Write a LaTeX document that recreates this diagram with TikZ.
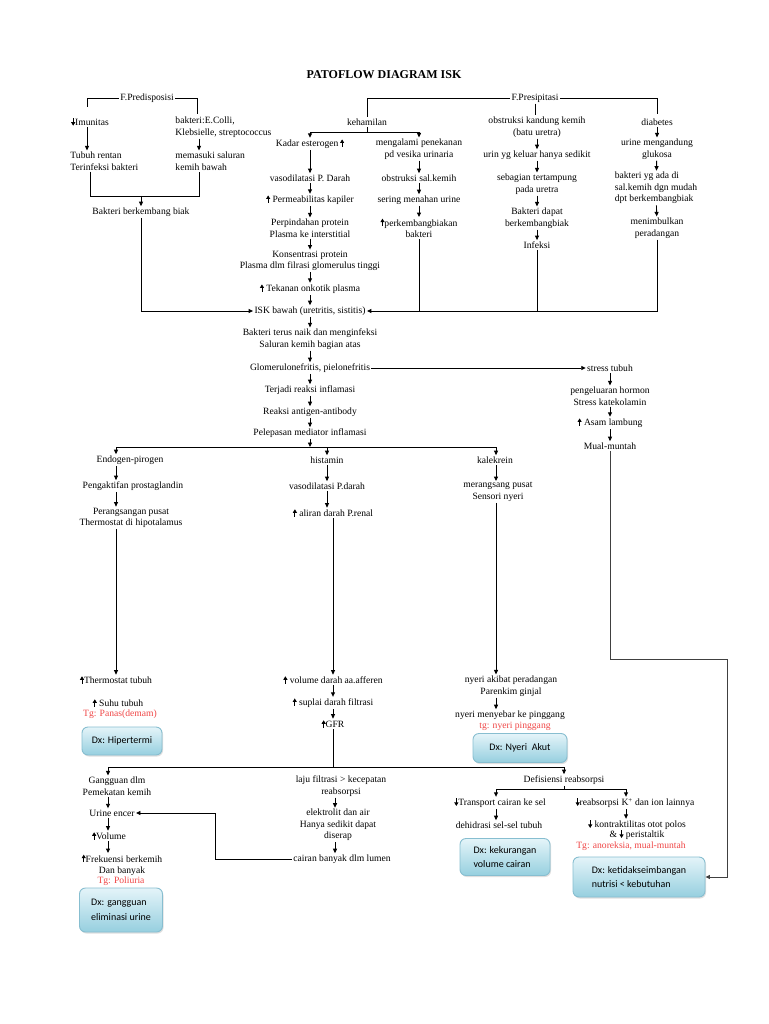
\documentclass[tikz,border=0pt]{standalone}
\usepackage{fontspec}
\setmainfont{Liberation Serif}
\newfontfamily\dxfont{Carlito}
\usetikzlibrary{arrows.meta}
\usetikzlibrary{shadows}

\definecolor{merah}{RGB}{240,70,70}
\definecolor{kotakatas}{RGB}{228,244,249}
\definecolor{kotakbawah}{RGB}{150,207,223}
\definecolor{kotakgaris}{RGB}{135,190,208}

\newcommand{\naik}{\tikz[baseline=0pt]\draw[line width=0.8pt,-{Triangle[length=3.5pt,width=4pt]}] (0,0) -- (0,7.5pt);}
\newcommand{\turun}{\tikz[baseline=0pt]\draw[line width=0.8pt,-{Triangle[length=3.5pt,width=4pt]}] (0,7.5pt) -- (0,0);}

\tikzset{
  teks/.style={font=\fontsize{9.6}{11.5}\selectfont, align=center, inner sep=1pt},
  merahteks/.style={teks, text=merah},
  dx/.style={draw=kotakgaris, rounded corners=6pt, top color=kotakatas, bottom color=kotakbawah,
    font=\dxfont\fontsize{10}{14.5}\selectfont, align=left, inner xsep=7pt,
    drop shadow={opacity=0.25,shadow xshift=1pt,shadow yshift=-1.5pt}},
  panah/.style={-{Triangle[length=4.5pt,width=4pt]}}
}

\begin{document}
\begin{tikzpicture}[x=1pt,y=-1pt,line width=0.9pt]
  \fill[white] (0,0) rectangle (768,1024);
  \useasboundingbox (0,0) rectangle (768,1024);

  % Title
  \node[font=\bfseries\fontsize{12}{14}\selectfont] (judul) at (384,75) {PATOFLOW DIAGRAM ISK};

  % Predisposition
  \node[teks] (predis) at (147,98) {F.Predisposisi};
  \node[teks,anchor=west] (imun) at (70,122) {\turun Imunitas};
  \node[teks,anchor=west,align=left] (ecoli) at (174,127) {bakteri:E.Colli,\\Klebsielle, streptococcus};
  \node[teks,anchor=west,align=left] (tubuh) at (69,161) {Tubuh rentan\\Terinfeksi bakteri};
  \node[teks,anchor=west,align=left] (masuk) at (174,161) {memasuki saluran\\kemih bawah};
  \node[teks] (biak) at (141,212) {Bakteri berkembang biak};
  \coordinate (pl) at (87,107);
  \coordinate (pr) at (197,114);
  \coordinate (kl) at (90,196);
  \coordinate (kr) at (199,196);
  \draw (predis.west) -| (pl);
  \draw (predis.east) -| (pr);
  \draw[panah] (imun.south -| pl) -- (tubuh.north -| pl);
  \draw[panah] (ecoli.south -| kr) -- (masuk.north -| kr);
  \draw (tubuh.south -| kl) -- (kl) -- (kr) -- (masuk.south -| kr);
  \draw[panah] (kl -| biak) -- (biak.north);

  % Precipitation
  \node[teks] (pres) at (535,98) {F.Presipitasi};
  \node[teks] (hamil) at (367,122) {kehamilan};
  \coordinate (hs) at (367,132);
  \draw (pres.west) -| (hamil.north);
  \draw (hamil.south) -- (hs);
  \draw (pres.east) -| (657,114);

  % Pregnancy, first branch
  \node[teks] (kadar) at (310,144) {Kadar esterogen\,\naik};
  \node[teks] (vaso1) at (310,178) {vasodilatasi P. Darah};
  \node[teks] (perm) at (310,200) {\naik\ Permeabilitas kapiler};
  \node[teks] (pindah) at (310,228) {Perpindahan protein\\Plasma ke interstitial};
  \node[teks] (konsen) at (310,261) {Konsentrasi protein\\Plasma dlm filrasi glomerulus tinggi};
  \node[teks] (onkotik) at (310,289) {\naik\ Tekanan onkotik plasma};

  % Pregnancy, second branch
  \node[teks] (tekan) at (419,149) {mengalami penekanan\\pd vesika urinaria};
  \node[teks] (obsal) at (419,178) {obstruksi sal.kemih};
  \node[teks] (sering) at (419,200) {sering menahan urine};
  \node[teks] (perk) at (419,228) {\naik perkembangbiakan\\bakteri};
  \draw[panah] (hs) -| (kadar.north);
  \draw[panah] (hs) -| (tekan.north);

  % Obstruction
  \node[teks] (obskk) at (537,127) {obstruksi kandung kemih\\(batu uretra)};
  \node[teks] (urin) at (537,155) {urin yg keluar hanya sedikit};
  \node[teks] (tampung) at (537,184) {sebagian tertampung\\pada uretra};
  \node[teks] (dapat) at (537,218) {Bakteri dapat\\berkembangbiak};
  \node[teks] (infeksi) at (537,245) {Infeksi};
  \draw (pres.south) -- (pres.south |- obskk.north);

  % Diabetes
  \node[teks] (diab) at (657,122) {diabetes};
  \node[teks] (gluk) at (657,149) {urine mengandung\\glukosa};
  \node[teks,align=left] (bakyg) at (656,188) {bakteri yg ada di\\sal.kemih dgn mudah\\dpt berkembangbiak};
  \node[teks] (radang) at (657,228) {menimbulkan\\peradangan};

  \foreach \a/\b in {kadar/vaso1,vaso1/perm,perm/pindah,pindah/konsen,konsen/onkotik,
      tekan/obsal,obsal/sering,sering/perk,
      obskk/urin,urin/tampung,tampung/dapat,dapat/infeksi,
      diab/gluk,gluk/bakyg,bakyg/radang}
    \draw[panah] (\a) -- (\b);

  % Lower tract infection
  \node[teks] (isk) at (310,311) {ISK bawah (uretritis, sistitis)};
  \draw[panah] (biak.south) |- (isk.west);
  \draw (perk.south) -- (perk.south |- isk.east);
  \draw (infeksi.south) -- (infeksi.south |- isk.east);
  \draw[panah] (radang.south) |- (isk.east);
  \draw[panah] (onkotik) -- (isk);

  % Upper tract
  \node[teks] (naikatas) at (310,339) {Bakteri terus naik dan menginfeksi\\Saluran kemih bagian atas};
  \node[teks] (glom) at (310,368) {Glomerulonefritis, pielonefritis};
  \node[teks] (terjadi) at (310,390) {Terjadi reaksi inflamasi};
  \node[teks] (reaksi) at (310,412) {Reaksi antigen-antibody};
  \node[teks] (lepas) at (310,433) {Pelepasan mediator inflamasi};
  \coordinate (ls) at (310,447);
  \foreach \a/\b in {isk/naikatas,naikatas/glom,glom/terjadi,terjadi/reaksi,reaksi/lepas,lepas/ls}
    \draw[panah] (\a) -- (\b);

  % Stress
  \node[teks] (stress) at (610,368) {stress tubuh};
  \node[teks] (hormon) at (610,396) {pengeluaran hormon\\Stress katekolamin};
  \node[teks] (asam) at (610,423) {\naik\ Asam lambung};
  \node[teks] (mual) at (610,446) {Mual-muntah};
  \draw[panah] (glom.east) -- (stress.west);
  \foreach \a/\b in {stress/hormon,hormon/asam,asam/mual}
    \draw[panah] (\a) -- (\b);

  % Mediators
  \coordinate (ca) at (116,0);
  \coordinate (cc) at (496,0);
  \node[teks] (endo) at (130,460) {Endogen-pirogen};
  \node[teks] (aktif) at (133,486) {Pengaktifan prostaglandin};
  \node[teks] (rangsang) at (131,518) {Perangsangan pusat\\Thermostat di hipotalamus};
  \node[teks] (hist) at (327,460) {histamin};
  \node[teks] (vaso2) at (327,486) {vasodilatasi P.darah};
  \node[teks] (aliran) at (333,513) {\naik\ aliran darah P.renal};
  \node[teks] (kale) at (495,460) {kalekrein};
  \node[teks] (rangsang2) at (498,492) {merangsang pusat\\Sensori nyeri};
  \draw[panah] (ls) -| (endo.north -| ca);
  \draw[panah] (ls) -| (hist.north);
  \draw[panah] (ls) -| (kale.north -| cc);
  \draw[panah] (endo.south -| ca) -- (aktif.north -| ca);
  \draw[panah] (aktif.south -| ca) -- (rangsang.north -| ca);
  \draw[panah] (hist) -- (vaso2);
  \draw[panah] (vaso2.south) -- (vaso2.south |- aliran.north);
  \draw[panah] (kale.south -| cc) -- (rangsang2.north -| cc);

  % Fever
  \node[teks] (thermo) at (116,680) {\naik Thermostat tubuh};
  \node[teks] (suhu) at (118,703) {\naik\ Suhu tubuh};
  \node[merahteks] (panas) at (120,714) {Tg: Panas(demam)};
  \node[dx,minimum width=80pt,minimum height=28pt] (hiper) at (122,741) {Dx: Hipertermi};
  \draw[panah] (rangsang.south -| ca) -- (thermo.north -| ca);

  % Renal flow
  \node[teks] (vol) at (333,680) {\naik\ volume darah aa.afferen};
  \node[teks] (suplai) at (333,703) {\naik\ suplai darah filtrasi};
  \node[teks] (gfr) at (333,724) {\naik GFR};
  \foreach \a/\b in {aliran/vol,vol/suplai,suplai/gfr}
    \draw[panah] (\a) -- (\b);

  % Pain
  \node[teks] (nyeri1) at (511,686) {nyeri akibat peradangan\\Parenkim ginjal};
  \node[teks] (nyeri2) at (510,715) {nyeri menyebar ke pinggang};
  \node[merahteks] (tgnyeri) at (515,726) {tg: nyeri pinggang};
  \node[dx,minimum width=94pt,minimum height=29pt] (akut) at (520,748) {Dx: Nyeri~ Akut};
  \draw[panah] (rangsang2.south -| cc) -- (nyeri1.north -| cc);
  \draw[panah] (nyeri1.south -| cc) -- (nyeri2.north -| cc);

  % Filtration
  \coordinate (gs) at (333,767);
  \coordinate (cg) at (108,0);
  \coordinate (cd) at (335,0);
  \node[teks] (ganggu) at (117,786) {Gangguan dlm\\Pemekatan kemih};
  \node[teks] (urine) at (112,813) {Urine encer};
  \node[teks] (volume) at (109,836) {\naik Volume};
  \node[teks] (frek) at (122,865) {\naik Frekuensi berkemih\\Dan banyak};
  \node[merahteks] (poli) at (121,881) {Tg: Poliuria};
  \node[dx,minimum width=83pt,minimum height=44pt] (elim) at (121,910) {Dx: gangguan\\eliminasi urine};
  \node[teks] (laju) at (341,786) {laju filtrasi > kecepatan\\reabsorpsi};
  \node[teks] (elektro) at (338,825) {elektrolit dan air\\Hanya sedikit dapat\\diserap};
  \node[teks] (cairan) at (342,859) {cairan banyak dlm lumen};
  \coordinate (cb) at (215,859);
  \draw (gfr.south) -- (gs);
  \draw[panah] (gs) -| (ganggu.north -| cg);
  \draw[panah] (ganggu.south -| cg) -- (urine.north -| cg);
  \draw[panah] (urine.south -| cg) -- (volume.north -| cg);
  \draw[panah] (volume.south -| cg) -- (frek.north -| cg);
  \draw[panah] (laju.south -| cd) -- (elektro.north -| cd);
  \draw[panah] (elektro.south -| cd) -- (cairan.north -| cd);
  \draw[panah] (cairan.west) -- (cb) |- (urine.east);

  % Reabsorption
  \coordinate (ce) at (496,0);
  \coordinate (ck) at (626,0);
  \node[teks] (defis) at (564,780) {Defisiensi reabsorpsi};
  \coordinate (ds) at (564,789);
  \node[teks] (transport) at (500,803) {\turun Transport cairan ke sel};
  \node[teks] (dehid) at (499,825) {dehidrasi sel-sel tubuh};
  \node[dx,minimum width=90pt,minimum height=37pt] (kurang) at (505,857) {Dx: kekurangan\\volume cairan};
  \node[teks] (kalium) at (635,803) {\turun reabsorpsi K\textsuperscript{+} dan ion lainnya};
  \node[teks,font=\fontsize{9.6}{10}\selectfont] (kontrak) at (637,830) {\turun\ kontraktilitas otot polos\\\& \turun\ peristaltik};
  \node[merahteks] (anorek) at (631,846) {Tg: anoreksia, mual-muntah};
  \node[dx,minimum width=132pt,minimum height=40pt] (nutrisi) at (639,877) {Dx: ketidakseimbangan\\nutrisi < kebutuhan};
  \draw[panah] (gs) -| (defis.north);
  \draw (defis.south) -- (ds);
  \draw[panah] (ds) -| (transport.north -| ce);
  \draw[panah] (ds) -| (kalium.north -| ck);
  \draw[panah] (transport.south -| ce) -- (dehid.north -| ce);
  \draw[panah] (kalium.south -| ck) -- (kontrak.north -| ck);

  % Nausea to nutrition
  \coordinate (b1) at (727,659);
  \draw[panah,black!75] (mual.south) |- (b1) |- (nutrisi.east);
\end{tikzpicture}
\end{document}
